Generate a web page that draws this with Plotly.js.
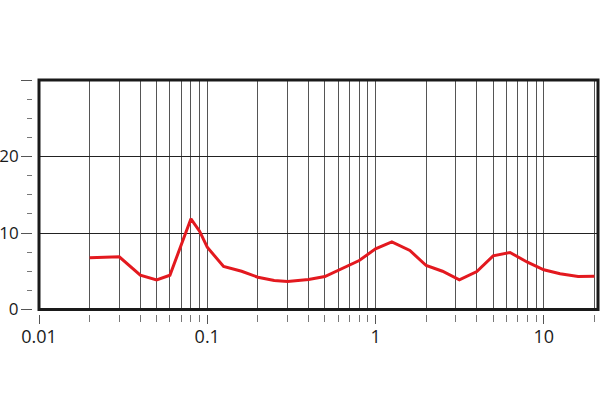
<!DOCTYPE html>
<html>
<head>
<meta charset="utf-8">
<script src="https://cdn.plot.ly/plotly-3.0.1.min.js"></script>
<style>html,body{margin:0;padding:0;background:#fff;}#chart{width:600px;height:420px;}</style>
</head>
<body>
<div id="chart"></div>
<script>
const freq = [0.02,0.03,0.04,0.05,0.06,0.07,0.08,0.09,0.1,0.125,0.16,0.2,0.25,0.3,0.4,0.5,0.6,0.8,1,1.25,1.6,2,2.5,3.15,4,5,6.3,8,10,12.5,16,20];
const level = [6.76,6.89,4.48,3.88,4.48,8.37,11.86,10.24,8.14,5.62,5.0,4.22,3.79,3.66,3.92,4.31,5.1,6.4,7.93,8.85,7.71,5.75,5.0,3.88,4.97,7.02,7.45,6.18,5.19,4.67,4.31,4.35];
const xTickVals = [0.01,0.1,1,10];
const xTickText = ["0.01","0.1","1","10"];
const xMinorVals = [0.02,0.03,0.04,0.05,0.06,0.07,0.08,0.09,0.2,0.3,0.4,0.5,0.6,0.7,0.8,0.9,2,3,4,5,6,7,8,9,20];
const yTickVals = [0,10,20,30];
const yTickText = ["0","10","20",""];

const W = 600, H = 420;
const mL = 20, mR = 2, mT = 80, mB = 90;
const pw = W - mL - mR, ph = H - mT - mB;
const plotLeft = 39, plotBottom = 309.5;
const xd0 = (plotLeft - mL) / pw;
const yd0 = (H - mB - plotBottom) / ph;
const yAxisPos = (32 - mL) / pw;
const xAxisPos = (H - mB - 313.5) / ph;

const font = {family: "Open Sans, DejaVu Sans, sans-serif", size: 18, color: "#1a1a1a"};
const yFont = {family: "Open Sans, DejaVu Sans, sans-serif", size: 17, color: "#1a1a1a"};

Plotly.newPlot("chart", [{
  x: freq, y: level, type: "scatter", mode: "lines",
  line: {color: "#e3191f", width: 3},
  hoverinfo: "skip"
}], {
  width: W, height: H,
  margin: {l: mL, r: mR, t: mT, b: mB, pad: 0},
  paper_bgcolor: "#fff", plot_bgcolor: "#fff",
  showlegend: false,
  font: font,
  xaxis: {
    type: "log", range: [-2, Math.log10(21)], domain: [xd0, 1],
    anchor: "free", position: xAxisPos,
    tickmode: "array", tickvals: xTickVals, ticktext: xTickText,
    ticks: "outside", ticklen: 9, tickwidth: 1, tickcolor: "#555",
    ticklabelstandoff: -2,
    showline: false, zeroline: false,
    showgrid: true, gridcolor: "#555", gridwidth: 1,
    minor: {tickmode: "array", tickvals: xMinorVals, ticks: "outside", ticklen: 7, tickwidth: 1, tickcolor: "#777",
            showgrid: true, gridcolor: "#555", gridwidth: 1},
    tickfont: font, fixedrange: true
  },
  yaxis: {
    range: [0, 30], domain: [yd0, 1],
    anchor: "free", position: yAxisPos,
    tickmode: "array", tickvals: yTickVals, ticktext: yTickText,
    ticks: "outside", ticklen: 11, tickwidth: 1, tickcolor: "#555",
    ticklabelstandoff: -1,
    showline: false, zeroline: false,
    showgrid: true, gridcolor: "#222", gridwidth: 1,
    minor: {dtick: 2.5, tick0: 0, ticks: "outside", ticklen: 5, tickwidth: 1, tickcolor: "#777", showgrid: false},
    tickfont: yFont, fixedrange: true
  },
  shapes: [{
    type: "rect", xref: "paper", yref: "paper",
    x0: xd0, x1: 1, y0: yd0, y1: 1,
    line: {color: "#1a1a1a", width: 3}, fillcolor: "rgba(0,0,0,0)", layer: "above"
  }]
}, {staticPlot: true, displayModeBar: false});
</script>
</body>
</html>
